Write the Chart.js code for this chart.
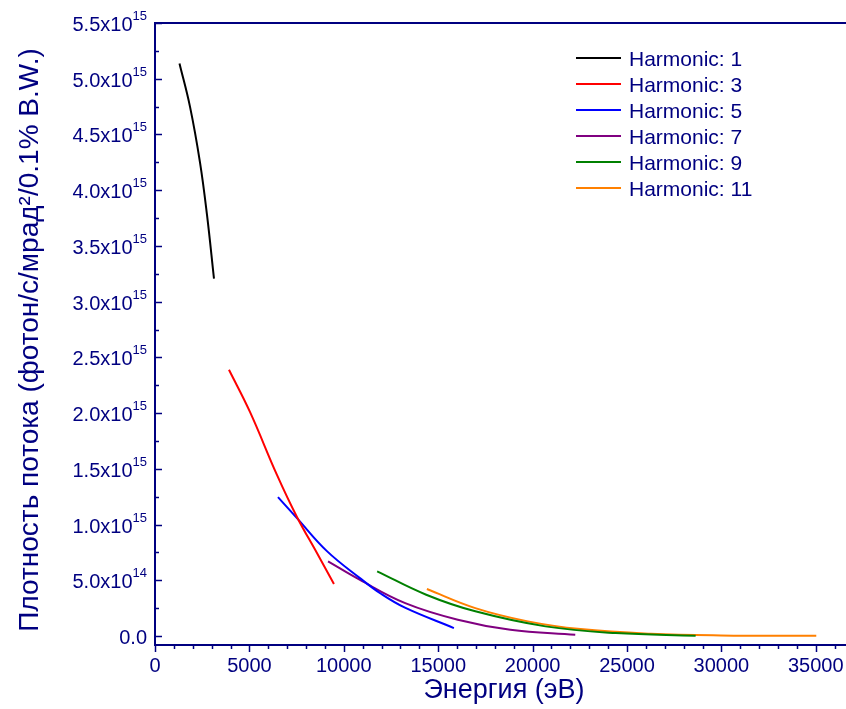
<!DOCTYPE html>
<html>
<head>
<meta charset="utf-8">
<script src="https://cdn.jsdelivr.net/npm/chart.js@4/dist/chart.umd.min.js"></script>
<style>
  html, body { margin: 0; padding: 0; background: #ffffff; }
  #wrap { width: 846px; height: 709px; }
</style>
</head>
<body>
<div id="wrap"><canvas id="c" width="846" height="709"></canvas></div>
<script>
// Undulator harmonics: flux density vs photon energy
const harmonicLabels = ['Harmonic: 1', 'Harmonic: 3', 'Harmonic: 5', 'Harmonic: 7', 'Harmonic: 9', 'Harmonic: 11'];
const harmonicColors = ['#000000', '#ff0000', '#0000ff', '#800080', '#008000', '#ff8000'];

const energyH1 = [1297, 1853, 2383, 2753, 3124];
const fluxH1   = [5.137e15, 4.75e15, 4.25e15, 3.78e15, 3.206e15];

const energyH3 = [3918, 5030, 6460, 7519, 8578, 9478];
const fluxH3   = [2.389e15, 2.011e15, 1.446e15, 1.069e15, 7.45e14, 4.67e14];

const energyH5 = [6513, 7519, 9107, 10855, 11967, 13238, 15832];
const fluxH5   = [1.247e15, 1.058e15, 7.62e14, 5.20e14, 3.80e14, 2.55e14, 7.2e13];

const energyH7 = [9166, 10834, 13254, 16039, 18824, 22260];
const fluxH7   = [6.70e14, 5.06e14, 2.96e14, 1.47e14, 5.7e13, 1.3e13];

const energyH9 = [11766, 14365, 16966, 20683, 24399, 28636];
const fluxH9   = [5.81e14, 3.71e14, 2.22e14, 8.7e13, 2.7e13, 3e12];

const energyH11 = [14402, 16966, 19751, 22540, 26259, 29970, 35026];
const fluxH11   = [4.22e14, 2.51e14, 1.32e14, 6.3e13, 2.1e13, 6e12, 3e12];

const xTickValues = [0, 5000, 10000, 15000, 20000, 25000, 30000, 35000];
const xTickLabels = ['0', '5000', '10000', '15000', '20000', '25000', '30000', '35000'];
const yTickValues = [0, 5e14, 1e15, 1.5e15, 2e15, 2.5e15, 3e15, 3.5e15, 4e15, 4.5e15, 5e15, 5.5e15];
const yTickMantissa = ['0.0', '5.0', '1.0', '1.5', '2.0', '2.5', '3.0', '3.5', '4.0', '4.5', '5.0', '5.5'];
const yTickExponent = ['', '14', '15', '15', '15', '15', '15', '15', '15', '15', '15', '15'];

const xTitle = 'Энергия (эВ)';
const yTitle = 'Плотность потока (фотон/с/мрад²/0.1% B.W.)';

const NAVY = '#000080';
const FONT = '"Liberation Sans", Arial, sans-serif';

function toPoints(xs, ys) {
  return xs.map((x, i) => ({ x: x, y: ys[i] }));
}

const series = [
  [energyH1, fluxH1], [energyH3, fluxH3], [energyH5, fluxH5],
  [energyH7, fluxH7], [energyH9, fluxH9], [energyH11, fluxH11]
];

const datasets = series.map((s, i) => ({
  label: harmonicLabels[i],
  data: toPoints(s[0], s[1]),
  borderColor: harmonicColors[i],
  backgroundColor: harmonicColors[i],
  borderWidth: 2,
  pointRadius: 0,
  tension: 0.4,
  fill: false
}));

// Axis decorations, tick labels with superscripts, titles and legend
const decorations = {
  id: 'decorations',
  afterDraw(chart) {
    const ctx = chart.ctx;
    const area = chart.chartArea;
    const xs = chart.scales.x;
    const ys = chart.scales.y;
    ctx.save();
    ctx.strokeStyle = NAVY;
    ctx.fillStyle = NAVY;

    // top frame line
    ctx.lineWidth = 2;
    ctx.beginPath();
    ctx.moveTo(area.left - 1, area.top);
    ctx.lineTo(chart.width, area.top);
    ctx.stroke();

    // y ticks (inward)
    ctx.lineWidth = 1.5;
    for (let i = 0; i < yTickValues.length; i++) {
      const py = Math.round(ys.getPixelForValue(yTickValues[i])) + 0.5;
      ctx.beginPath();
      ctx.moveTo(area.left, py);
      ctx.lineTo(area.left + 7, py);
      ctx.stroke();
      const mid = yTickValues[i] + 2.5e14;
      if (mid < ys.max) {
        const pm = Math.round(ys.getPixelForValue(mid)) + 0.5;
        ctx.beginPath();
        ctx.moveTo(area.left, pm);
        ctx.lineTo(area.left + 4, pm);
        ctx.stroke();
      }
    }
    // x ticks (outward)
    for (let v = 0; v <= xs.max; v += 1000) {
      const px = Math.round(xs.getPixelForValue(v)) + 0.5;
      const major = v % 5000 === 0;
      ctx.beginPath();
      ctx.moveTo(px, area.bottom);
      ctx.lineTo(px, area.bottom + (major ? 7 : 4));
      ctx.stroke();
    }

    // x tick labels
    ctx.font = '20px ' + FONT;
    ctx.textAlign = 'center';
    ctx.textBaseline = 'alphabetic';
    for (let i = 0; i < xTickValues.length; i++) {
      ctx.fillText(xTickLabels[i], xs.getPixelForValue(xTickValues[i]), 672);
    }

    // y tick labels: mantissa x10 with superscript exponent
    const rightEdge = 147;
    for (let i = 0; i < yTickValues.length; i++) {
      const py = ys.getPixelForValue(yTickValues[i]);
      if (yTickExponent[i]) {
        ctx.font = '13px ' + FONT;
        const we = ctx.measureText(yTickExponent[i]).width;
        ctx.textAlign = 'left';
        ctx.fillText(yTickExponent[i], rightEdge - we, py - 3);
        ctx.font = '20px ' + FONT;
        ctx.textAlign = 'right';
        ctx.fillText(yTickMantissa[i] + 'x10', rightEdge - we, py + 8);
      } else {
        ctx.font = '20px ' + FONT;
        ctx.textAlign = 'right';
        ctx.fillText(yTickMantissa[i], rightEdge, py + 8);
      }
    }

    // axis titles
    ctx.font = '27px ' + FONT;
    ctx.textAlign = 'center';
    ctx.fillText(xTitle, 504, 698);
    ctx.save();
    ctx.translate(38, 340);
    ctx.rotate(-Math.PI / 2);
    ctx.font = '28px ' + FONT;
    ctx.fillText(yTitle, 0, 0);
    ctx.restore();

    // legend
    const rowY0 = 58, rowStep = 26;
    chart.data.datasets.forEach((ds, i) => {
      const y = rowY0 + i * rowStep;
      ctx.strokeStyle = ds.borderColor;
      ctx.lineWidth = 2;
      ctx.beginPath();
      ctx.moveTo(576, y);
      ctx.lineTo(621, y);
      ctx.stroke();
      ctx.fillStyle = NAVY;
      ctx.font = '21px ' + FONT;
      ctx.textAlign = 'left';
      ctx.fillText(ds.label, 629, y + 8);
    });
    ctx.restore();
  }
};

new Chart(document.getElementById('c'), {
  type: 'line',
  data: { datasets: datasets },
  options: {
    responsive: false,
    animation: false,
    layout: { padding: { top: 23, right: 0, left: 0, bottom: 0 } },
    plugins: { legend: { display: false }, tooltip: { enabled: false } },
    scales: {
      x: {
        type: 'linear',
        min: 0,
        max: 36600,
        grid: { display: false, drawTicks: false },
        border: { display: true, color: NAVY, width: 2 },
        ticks: { display: false },
        afterFit(scale) { scale.height = 709 - 645; }
      },
      y: {
        type: 'linear',
        min: -8e13,
        max: 5.5e15,
        grid: { display: false, drawTicks: false },
        border: { display: true, color: NAVY, width: 2 },
        ticks: { display: false },
        afterFit(scale) { scale.width = 155; }
      }
    }
  },
  plugins: [decorations]
});
</script>
</body>
</html>
